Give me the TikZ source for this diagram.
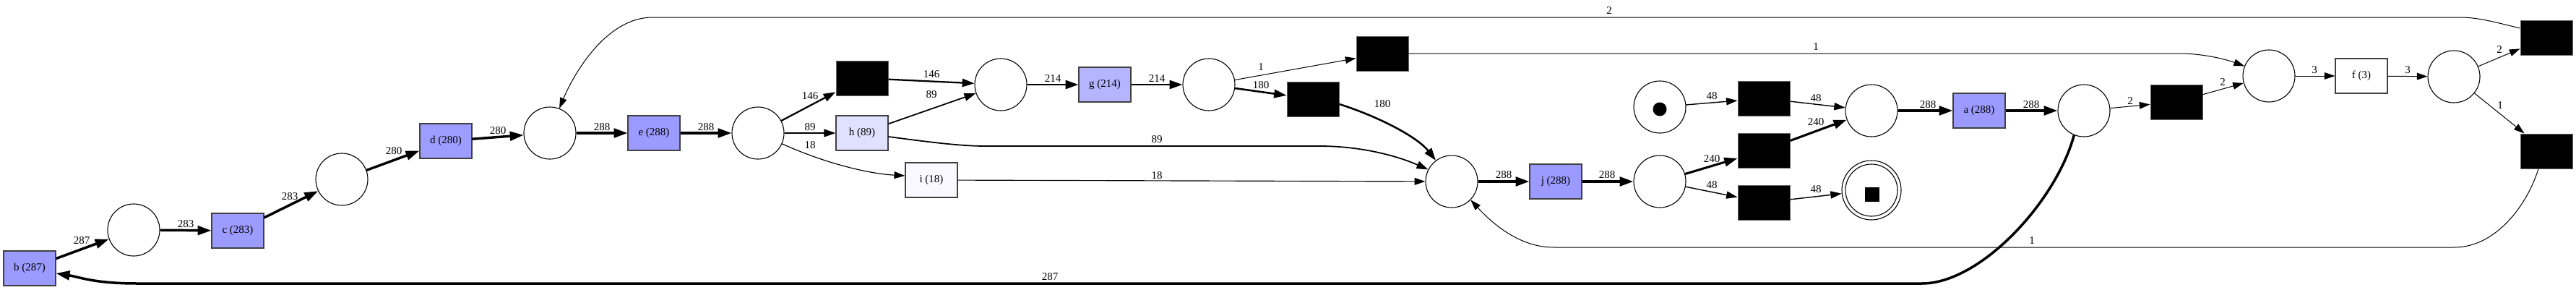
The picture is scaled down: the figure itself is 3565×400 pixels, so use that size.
\documentclass[tikz,border=0pt]{standalone}
\usepackage{fontspec}
\setmainfont{Liberation Serif}
\usetikzlibrary{arrows.meta}
\definecolor{f288}{HTML}{9B9BFF}
\definecolor{f283}{HTML}{9C9CFF}
\definecolor{f280}{HTML}{9D9DFF}
\definecolor{f214}{HTML}{B4B4FF}
\definecolor{f89}{HTML}{E0E0FF}
\definecolor{f18}{HTML}{F9F9FF}
\definecolor{bord}{HTML}{404040}
\begin{document}
\begin{tikzpicture}[x=1pt,y=-1pt,
  place/.style={circle,draw=black,line width=1.1pt,fill=white,minimum size=72pt,inner sep=0pt},
  trans/.style={rectangle,draw=bord,line width=1.1pt,minimum width=72pt,minimum height=48pt,inner sep=0pt,font=\fontsize{15}{15}\selectfont},
  silent/.style={rectangle,draw=black!60,fill=black,line width=1pt,minimum width=72pt,minimum height=48pt,inner sep=0pt},
  lbl/.style={inner sep=0pt,font=\fontsize{15}{15}\selectfont},
  arc/.style={line width=#1pt,-{Triangle[length=13pt 1.7,width=8.5pt 1.2]}},
]
\useasboundingbox (0,0) rectangle (3565,400);
% places
\node[place] (p1) at (185,318) {};
\node[place] (p2) at (473,248) {};
\node[place] (p3) at (761,184) {};
\node[place] (p4) at (1049,184) {};
\node[place] (p5) at (1385,117) {};
\node[place] (p6) at (1673,117) {};
\node[place] (p7) at (2009,251) {};
\node[place] (p8) at (2297,251) {};
\node[place] (ps) at (2297,148) {};
\node[circle,fill=black,minimum size=19pt,inner sep=0pt] (tok) at (2297,151) {};
\node[place] (p9) at (2590,153) {};
\node[place,minimum size=82pt] (pe) at (2590,263) {};
\node[place] (pein) at (2590,263) {};
\node[rectangle,fill=black,minimum size=20pt,inner sep=0pt] (etok) at (2591,269) {};
\node[place] (p11) at (2884,153) {};
\node[place] (p10) at (3140,105) {};
\node[place] (p12) at (3396,106) {};
% transitions
\node[trans,fill=f288] (b) at (41,371) {b (287)};
\node[trans,fill=f283] (c) at (329,319) {c (283)};
\node[trans,fill=f280] (d) at (617,195) {d (280)};
\node[trans,fill=f288] (e) at (905,184) {e (288)};
\node[silent] (t1) at (1193,108) {};
\node[trans,fill=f89] (h) at (1193,184) {h (89)};
\node[trans,fill=f18] (i) at (1289,249) {i (18)};
\node[trans,fill=f214] (g) at (1529,117) {g (214)};
\node[silent] (t3) at (1817,137) {};
\node[silent] (t2) at (1913,74) {};
\node[trans,fill=f288] (j) at (2153,251) {j (288)};
\node[silent] (t4) at (2441,136) {};
\node[silent] (t5) at (2441,208) {};
\node[silent] (t6) at (2441,280) {};
\node[trans,fill=f288] (a) at (2739,153) {a (288)};
\node[silent] (t7) at (3012,141) {};
\node[trans,fill=white] (f) at (3268,105) {f (3)};
\node[silent] (t8) at (3524,52) {};
\node[silent] (t9) at (3524,209) {};
% straight arcs
\draw[arc=3.5] (b) -- (p1);
\draw[arc=3.46] (p1) -- (c);
\draw[arc=3.46] (c) -- (p2);
\draw[arc=3.43] (p2) -- (d);
\draw[arc=3.43] (d) -- (p3);
\draw[arc=3.5] (p3) -- (e);
\draw[arc=3.5] (e) -- (p4);
\draw[arc=2.26] (p4) -- (t1);
\draw[arc=1.77] (p4) -- (h);
\draw[arc=1.15] (p4.-24) .. controls (1140,225) and (1200,240) .. ([yshift=6pt]i.west);
\draw[arc=2.26] (t1) -- (p5);
\draw[arc=1.77] (h) -- (p5);
\draw[arc=2.86] (p5) -- (g);
\draw[arc=2.86] (g) -- (p6);
\draw[arc=1] (p6) -- (t2);
\draw[arc=2.56] (p6) -- (t3);
\draw[arc=2.56] ([yshift=-7pt]t3.east) .. controls (1910,162) and (1962,190) .. (p7.127);
\draw[arc=1.77] ([yshift=-5pt]h.east) .. controls (1290,197) and (1330,202) .. (1364,202) -- (1826,202) .. controls (1880,202) and (1930,214) .. (p7.153);
\draw[arc=1.15] (i) -- (p7);
\draw[arc=3.5] (p7) -- (j);
\draw[arc=3.5] (j) -- (p8);
\draw[arc=1.41] (ps) -- (t4);
\draw[arc=3.08] (p8) -- (t5);
\draw[arc=1.41] (p8) -- (t6);
\draw[arc=1.41] (t4) -- (p9);
\draw[arc=3.08] (t5) -- (p9);
\draw[arc=1.41] (t6) -- (pe);
\draw[arc=3.5] (p9) -- (a);
\draw[arc=3.5] (a) -- (p11);
\draw[arc=1] (p11) -- (t7);
\draw[arc=1] (t7) -- (p10);
\draw[arc=1] (t2.east) -- (3015,74) .. controls (3050,74) and (3080,82) .. (p10.158);
\draw[arc=1] (p10) -- (f);
\draw[arc=1] (f) -- (p12);
\draw[arc=1] (p12) -- (t8);
\draw[arc=1] (p12) -- (t9);
% long arcs
\draw[arc=1] ([yshift=13pt]t8.west) .. controls (3450,30) and (3430,24) .. (3403,24) -- (903,24) .. controls (840,24) and (795,100) .. (p3.69);
\draw[arc=1] ([xshift=-11pt]t9.south) .. controls (3495,290) and (3450,342) .. (3397,342) -- (2150,342) .. controls (2105,342) and (2068,312) .. (p7.-44);
\draw[arc=3.5] (p11.-112) .. controls (2845,280) and (2740,392) .. (2660,392) -- (190,392) .. controls (130,392) and (110,383) .. ([yshift=-7pt]b.east);
% labels
\node[lbl] at (113,333) {287};
\node[lbl] at (257,310) {283};
\node[lbl] at (401,272) {283};
\node[lbl] at (545,209) {280};
\node[lbl] at (689,181) {280};
\node[lbl] at (833,176) {288};
\node[lbl] at (977,176) {288};
\node[lbl] at (1121,133) {146};
\node[lbl] at (1121,176) {89};
\node[lbl] at (1121,201) {18};
\node[lbl] at (1289,103) {146};
\node[lbl] at (1289,131) {89};
\node[lbl] at (1457,109) {214};
\node[lbl] at (1601,109) {214};
\node[lbl] at (1745,93) {1};
\node[lbl] at (1745,118) {180};
\node[lbl] at (1913,144) {180};
\node[lbl] at (1601,193) {89};
\node[lbl] at (1601,243) {18};
\node[lbl] at (2081,242) {288};
\node[lbl] at (2224,242) {288};
\node[lbl] at (2369,133) {48};
\node[lbl] at (2369,220) {240};
\node[lbl] at (2369,256) {48};
\node[lbl] at (2513,136) {48};
\node[lbl] at (2513,169) {240};
\node[lbl] at (2513,262) {48};
\node[lbl] at (2668,145) {288};
\node[lbl] at (2811,145) {288};
\node[lbl] at (2948,140) {2};
\node[lbl] at (3076,114) {2};
\node[lbl] at (2513,65) {1};
\node[lbl] at (3203,97) {3};
\node[lbl] at (3332,97) {3};
\node[lbl] at (3459,69) {2};
\node[lbl] at (3460,146) {1};
\node[lbl] at (2227,15) {2};
\node[lbl] at (2812,333) {1};
\node[lbl] at (1453,383) {287};
\end{tikzpicture}
\end{document}
